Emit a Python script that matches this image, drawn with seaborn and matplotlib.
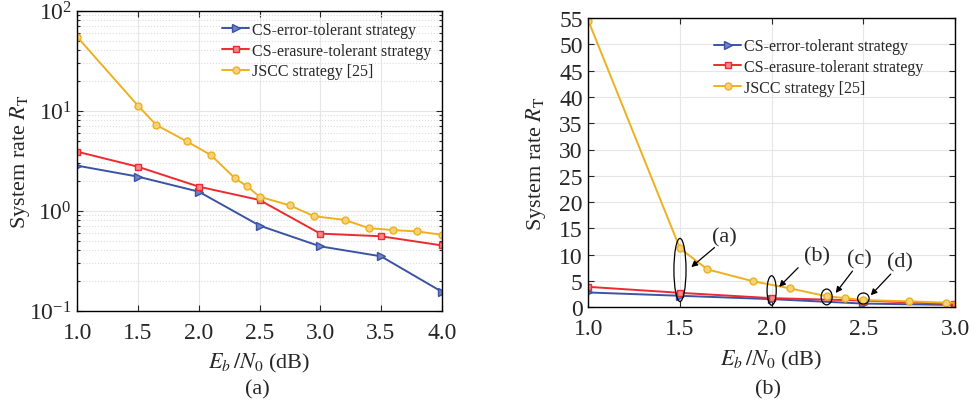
import numpy as np
import pandas as pd
import matplotlib
matplotlib.use("Agg")
import matplotlib.pyplot as plt
import seaborn as sns
from matplotlib.patches import Ellipse
from matplotlib.ticker import LogLocator, NullFormatter

# ---- data ----
err_x = [1.0, 1.5, 2.0, 2.5, 3.0, 3.5, 4.0]
err_y = [2.82, 2.19, 1.55, 0.71, 0.44, 0.35, 0.155]
era_x = [1.0, 1.5, 2.0, 2.5, 3.0, 3.5, 4.0]
era_y = [3.89, 2.75, 1.74, 1.28, 0.59, 0.555, 0.45]
jscc_x = [1.0, 1.5, 1.65, 1.9, 2.1, 2.3, 2.4, 2.5, 2.75, 2.95, 3.2, 3.4, 3.6, 3.8, 4.0]
jscc_y = [54.5, 11.2, 7.2, 4.94, 3.6, 2.1, 1.75, 1.38, 1.13, 0.88, 0.81, 0.67, 0.64, 0.62, 0.575]
labels = ["CS-error-tolerant strategy", "CS-erasure-tolerant strategy", "JSCC strategy [25]"]
left_xticks = [1.0, 1.5, 2.0, 2.5, 3.0, 3.5, 4.0]
right_xticks = [1.0, 1.5, 2.0, 2.5, 3.0]
right_yticks = list(range(0, 56, 5))
ann_labels = ["(a)", "(b)", "(c)", "(d)"]

sns.set_theme(style="ticks")
plt.rcParams['font.family'] = ['Liberation Serif', 'DejaVu Serif']
plt.rcParams['mathtext.fontset'] = 'stix'

colors = ["#3B53A4", "#EE2A2F", "#EDB120"]
faces = ["#6F82C4", "#F58A8C", "#F5D27A"]
markers = [">", "s", "o"]

df = pd.concat([
    pd.DataFrame({"x": err_x, "y": err_y, "s": labels[0]}),
    pd.DataFrame({"x": era_x, "y": era_y, "s": labels[1]}),
    pd.DataFrame({"x": jscc_x, "y": jscc_y, "s": labels[2]}),
])

fig = plt.figure(figsize=(9.69, 4.10), dpi=100)
ax1 = fig.add_axes([77.3/969, 1-311.7/410, 364.4/969, 300/410])
ax2 = fig.add_axes([588.3/969, 1-308.3/410, 366.7/969, 289.3/410])

msizes = [5.5, 4.5, 5]
for ax in (ax1, ax2):
    for i, lab in enumerate(labels):
        sub = df[df["s"] == lab]
        sns.lineplot(data=sub, x="x", y="y", ax=ax, color=colors[i], marker=markers[i],
                     markersize=msizes[i], markerfacecolor=faces[i], markeredgecolor=colors[i],
                     markeredgewidth=1.0, linewidth=1.4, label=lab, sort=False)

tick_fs = 17
# left
ax1.set_yscale("log")
ax1.set_xlim(1.0, 4.0)
ax1.set_ylim(0.1, 100)
ax1.set_xticks(left_xticks)
ax1.set_xticklabels([f"{v:.1f}" for v in left_xticks])
ax1.yaxis.set_major_locator(LogLocator(base=10, numticks=10))
ax1.yaxis.set_minor_locator(LogLocator(base=10, subs=np.arange(2, 10), numticks=20))
ax1.yaxis.set_minor_formatter(NullFormatter())
ax1.grid(True, which="major", color="#e6e6e6", linewidth=0.8)
ax1.grid(True, which="minor", axis="y", color="#dcdcdc", linestyle=":", linewidth=0.8)

# right
ax2.set_xlim(1.0, 3.0)
ax2.set_ylim(0, 55)
ax2.set_xticks(right_xticks)
ax2.set_xticklabels([f"{v:.1f}" for v in right_xticks])
ax2.set_yticks(right_yticks)
ax2.grid(True, which="major", color="#e6e6e6", linewidth=0.8)

for ax in (ax1, ax2):
    ax.tick_params(which="both", direction="in", top=True, right=True, labelsize=tick_fs,
                   length=4, width=0.8)
    ax.tick_params(axis="x", pad=8)
    ax.tick_params(axis="y", pad=4)
    ax.tick_params(which="minor", length=2.5)
    for sp in ax.spines.values():
        sp.set_linewidth(1.0)
        sp.set_color("black")
    ax.set_xlabel(r"$E_b\,/N_0$ (dB)", fontsize=16, labelpad=6)
    ax.set_ylabel(r"System rate $R_{\mathrm{T}}$", fontsize=16)
    ax.set_axisbelow(True)
ax1.yaxis.set_label_coords(-0.125, 0.5)
ax2.yaxis.set_label_coords(-0.11, 0.5)

leg_kw = dict(frameon=False, fontsize=11.5, handlelength=1.7, handletextpad=0.15,
              borderpad=0, borderaxespad=0, labelspacing=0.3, loc="upper left")
ax1.legend(bbox_to_anchor=(0.397, 0.963), **leg_kw)
ax2.legend(bbox_to_anchor=(0.343, 0.93), **leg_kw)

# annotations on right panel
ellipses = [(1.5, 7.1, 0.066, 12.0), (2.0, 3.2, 0.05, 5.6), (2.30, 1.97, 0.06, 3.0), (2.50, 1.67, 0.063, 2.1)]
label_pos = [(1.74, 13.4), (2.25, 9.7), (2.48, 9.2), (2.70, 8.6)]
arrows = [((1.70, 11.7), (1.55, 7.3)), ((2.155, 7.9), (2.03, 3.5)),
          ((2.45, 7.3), (2.34, 2.3)), ((2.66, 6.7), (2.53, 1.9))]
for (cx, cy, w, h), (lx, ly), (a0, a1), t in zip(ellipses, label_pos, arrows, ann_labels):
    ax2.add_patch(Ellipse((cx, cy), w, h, fill=False, edgecolor="black", linewidth=0.9, zorder=5))
    ax2.text(lx, ly, t, fontsize=16, ha="center", va="center")
    ax2.annotate("", xy=a1, xytext=a0,
                 arrowprops=dict(arrowstyle="-|>", color="black", lw=0.9, mutation_scale=9))

fig.text(257/969, 1-390/410, "(a)", ha="center", va="center", fontsize=16)
fig.text(767.7/969, 1-390/410, "(b)", ha="center", va="center", fontsize=16)

fig.savefig("out.png", dpi=100)
